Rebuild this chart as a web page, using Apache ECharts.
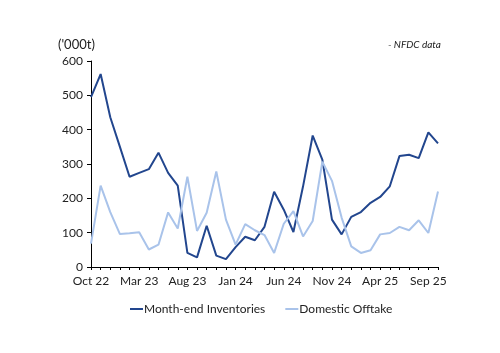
<!DOCTYPE html>
<html>
<head>
<meta charset="utf-8">
<script src="https://cdn.jsdelivr.net/npm/echarts@6/dist/echarts.min.js"></script>
<style>
  html, body { margin: 0; padding: 0; background: #fff; }
  #chart { width: 500px; height: 353px; }
</style>
</head>
<body>
<div id="chart"></div>
<script>
// monthly, Oct 22 .. Oct 25
const months = [
  'Oct 22', 'Nov 22', 'Dec 22', 'Jan 23', 'Feb 23', 'Mar 23', 'Apr 23', 'May 23', 'Jun 23', 'Jul 23',
  'Aug 23', 'Sep 23', 'Oct 23', 'Nov 23', 'Dec 23', 'Jan 24', 'Feb 24', 'Mar 24', 'Apr 24', 'May 24',
  'Jun 24', 'Jul 24', 'Aug 24', 'Sep 24', 'Oct 24', 'Nov 24', 'Dec 24', 'Jan 25', 'Feb 25', 'Mar 25',
  'Apr 25', 'May 25', 'Jun 25', 'Jul 25', 'Aug 25', 'Sep 25', 'Oct 25'
]
const inventories = [
  495, 562, 436, 350, 263, 274, 285, 333, 274, 237,
  41, 28, 120, 33, 23, 58, 88, 78, 117, 219,
  167, 102, 235, 383, 313, 138, 95, 146, 160, 187,
  204, 235, 323, 327, 317, 392, 360
]
const offtake = [
  68, 237, 160, 96, 98, 101, 51, 65, 159, 112,
  263, 105, 158, 278, 138, 65, 125, 107, 93, 41,
  126, 163, 89, 134, 307, 251, 144, 60, 41, 49,
  95, 99, 117, 107, 136, 99, 220
]
const yTicks = [0, 100, 200, 300, 400, 500, 600]

const font = 'Lato, "Open Sans", sans-serif'
const chart = echarts.init(document.getElementById('chart'))

chart.setOption({
  animation: false,
  grid: { left: 91, right: 62, top: 61, bottom: 86 },
  graphic: [
    {
      type: 'text', left: 58, top: 38,
      style: { text: "('000t)", font: '13px ' + font, fill: '#222' }
    },
    {
      type: 'text', left: 388, top: 40,
      style: { text: '- NFDC data', font: 'italic 10px ' + font, fill: '#222' }
    }
  ],
  legend: {
    bottom: 33,
    left: 125,
    itemWidth: 13,
    itemHeight: 2,
    itemGap: 20,
    icon: 'rect',
    textStyle: { fontFamily: font, fontSize: 12, color: '#222', padding: [0, 0, 0, -4] },
    data: ['Month-end Inventories', 'Domestic Offtake']
  },
  xAxis: {
    type: 'category',
    data: months,
    boundaryGap: false,
    axisLine: { lineStyle: { color: '#000', width: 1 } },
    axisTick: { interval: 0, length: 3, lineStyle: { color: '#000' } },
    axisLabel: { interval: 4, fontFamily: font, fontSize: 12, color: '#222', margin: 8 },
    splitLine: { show: false }
  },
  yAxis: {
    type: 'value',
    min: yTicks[0],
    max: yTicks[yTicks.length - 1],
    interval: 100,
    axisLine: { show: true, lineStyle: { color: '#000', width: 1 } },
    axisTick: { show: true, length: 4, lineStyle: { color: '#000' } },
    axisLabel: { fontFamily: font, fontSize: 12, color: '#222', margin: 8 },
    splitLine: { show: false }
  },
  series: [
    {
      name: 'Month-end Inventories',
      type: 'line',
      data: inventories,
      symbol: 'none',
      itemStyle: { color: '#22468e' },
      lineStyle: { color: '#22468e', width: 2 }
    },
    {
      name: 'Domestic Offtake',
      type: 'line',
      data: offtake,
      symbol: 'none',
      itemStyle: { color: '#a9c3ea' },
      lineStyle: { color: '#a9c3ea', width: 2 }
    }
  ]
})
</script>
</body>
</html>
